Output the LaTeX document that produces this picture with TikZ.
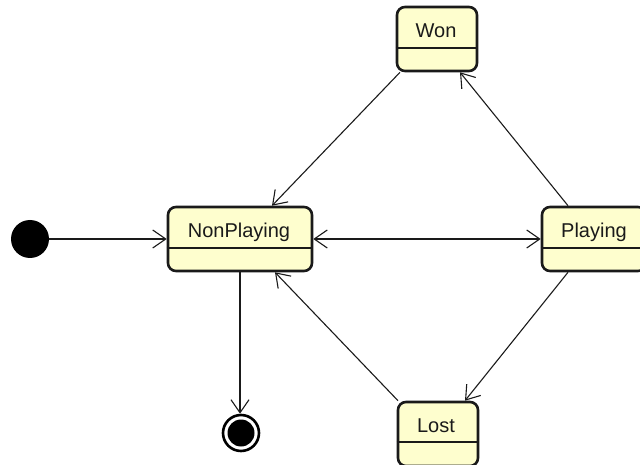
\documentclass[tikz,border=0pt]{standalone}
\usepackage{fontspec}
\setmainfont{Liberation Sans}
\usetikzlibrary{arrows.meta}
\definecolor{fillc}{HTML}{FEFECE}
\definecolor{linec}{HTML}{1A1A1A}
\begin{document}
\begin{tikzpicture}[x=1pt,y=-1pt,
 state/.style={draw=linec, line width=2.6pt, rounded corners=8pt, fill=fillc, inner sep=0pt, minimum height=64pt},
 lbl/.style={font=\fontsize{20}{20}\selectfont, text=linec, inner sep=0pt, anchor=base},
 divider/.style={draw=linec, line width=1.3pt},
 tip/.tip={Straight Barb[length=13pt,width=18pt,line width=1.1pt]},
 edge/.style={draw=linec, line width=1.1pt, -tip},
]
\useasboundingbox (0,0) rectangle (640,465);
% states
\node[state, minimum width=144pt] (np) at (240,239) {};
\node[state, minimum width=80pt] (won) at (437,39) {};
\node[state, minimum width=104pt] (pl) at (594,239) {};
\node[state, minimum width=80pt] (lost) at (438,434) {};
% dividers
\draw[divider] ([yshift=-9pt]np.west) -- ([yshift=-9pt]np.east);
\draw[divider] ([yshift=-9pt]won.west) -- ([yshift=-9pt]won.east);
\draw[divider] ([yshift=-9pt]pl.west) -- ([yshift=-9pt]pl.east);
\draw[divider] ([yshift=-8pt]lost.west) -- ([yshift=-8pt]lost.east);
% labels
\node[lbl] (npt) at (239,238) {NonPlaying};
\node[lbl] (wont) at (436,38) {Won};
\node[lbl] (plt) at (594,238) {Playing};
\node[lbl] (lostt) at (436,432) {Lost};
% pseudo states
\node[circle, fill=black, minimum size=38pt, inner sep=0pt] (init) at (30,239) {};
\node[circle, draw=black, line width=2.6pt, fill=white, minimum size=36pt, inner sep=0pt] (fin) at (241,433) {};
\node[circle, fill=black, minimum size=27pt, inner sep=0pt] (finc) at (fin.center) {};
% transitions
\draw[edge] (init) -- (np.west);
\draw[draw=linec, line width=1.1pt, tip-tip] (np.east) -- (pl.west);
\draw[edge] ([xshift=-37pt]won.south) -- ([xshift=32pt]np.north);
\draw[edge] ([xshift=-26pt]pl.north) -- ([xshift=23pt]won.south);
\draw[edge] ([xshift=-26pt]pl.south) -- ([xshift=27pt]lost.north);
\draw[edge] ([xshift=-40pt]lost.north) -- ([xshift=35pt]np.south);
\draw[edge] (np.south) -- (np.south |- fin.north);
\end{tikzpicture}
\end{document}
